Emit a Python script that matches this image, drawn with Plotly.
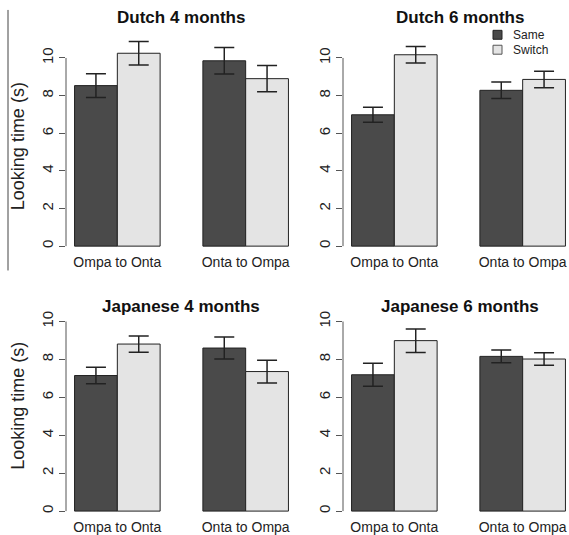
import plotly.graph_objects as go

W, H = 569, 535

conditions = ["Ompa to Onta", "Onta to Ompa"]
panel_titles = ["Dutch 4 months", "Dutch 6 months", "Japanese 4 months", "Japanese 6 months"]
series_names = ["Same", "Switch"]
same_means = [[8.53, 9.85], [6.98, 8.28], [7.15, 8.60], [7.19, 8.16]]
same_err = [[0.63, 0.70], [0.40, 0.44], [0.44, 0.58], [0.61, 0.33]]
switch_means = [[10.25, 8.90], [10.17, 8.86], [8.81, 7.36], [8.99, 8.02]]
switch_err = [[0.62, 0.70], [0.44, 0.44], [0.43, 0.60], [0.62, 0.33]]
y_ticks = [0, 2, 4, 6, 8, 10]
y_title = "Looking time (s)"

colors = {"Same": "#4a4a4a", "Switch": "#e4e4e4"}
edge_colors = {"Same": "#222", "Switch": "#555"}

# panel geometry in pixels: (x_left, x_right, y_top, y_bottom)
panels = [
    (66, 297, 29.9, 253.2),
    (343, 569, 29.9, 253.2),
    (66, 297, 294.7, 519.7),
    (343, 569, 294.7, 519.7),
]
x_ranges = [[-0.4, 1.4], [-0.4, 1.361], [-0.4, 1.4], [-0.4, 1.361]]
y_range = [-0.3, 11.5]

fig = go.Figure()
layout = dict(
    width=W, height=H, margin=dict(l=0, r=0, t=0, b=0),
    paper_bgcolor="white", plot_bgcolor="white",
    barmode="group", bargap=1/3, bargroupgap=0,
    font=dict(family="Liberation Sans, Arial, sans-serif", color="#222"),
    showlegend=False,
)
shapes = []
annotations = []

for i in range(4):
    sfx = "" if i == 0 else str(i + 1)
    xa, ya = "x" + sfx, "y" + sfx
    xl, xr, yt, yb = panels[i]
    for name, means, errs in (("Same", same_means[i], same_err[i]),
                              ("Switch", switch_means[i], switch_err[i])):
        fig.add_trace(go.Bar(
            x=conditions, y=means, name=name, xaxis=xa, yaxis=ya,
            marker=dict(color=colors[name], line=dict(color="#222", width=1)),
            error_y=dict(type="data", array=errs, visible=True,
                         color="#222", thickness=1.5, width=10),
            legendgroup=name,
        ))
    layout["xaxis" + sfx] = dict(
        domain=[xl / W, xr / W], anchor=ya, type="category",
        categoryorder="array", categoryarray=conditions,
        range=x_ranges[i], showline=False, showgrid=False, zeroline=False,
        ticks="", tickfont=dict(size=14, color="#222"),
    )
    layout["yaxis" + sfx] = dict(
        domain=[1 - yb / H, 1 - yt / H], anchor=xa, range=y_range,
        tickvals=y_ticks, ticktext=[str(v) for v in y_ticks],
        tickangle=-90, ticks="outside", ticklen=6, tickcolor="#555", tickwidth=1,
        showline=False, showgrid=False, zeroline=False,
        tickfont=dict(size=15, color="#222"),
    )
    # R-style axis line spanning only the tick range
    shapes.append(dict(type="line", xref=xa + " domain", yref=ya,
                       x0=0, x1=0, y0=y_ticks[0], y1=y_ticks[-1],
                       line=dict(color="#555", width=1)))
    annotations.append(dict(text="<b>" + panel_titles[i] + "</b>", xref="paper", yref="paper",
                            x=(xl + xr) / 2 / W if i % 2 == 0 else 460 / W,
                            y=1 - (18 if i < 2 else 308) / H,
                            xanchor="center", yanchor="middle", showarrow=False,
                            font=dict(size=17, color="#111")))

for yc in (147, 408):
    annotations.append(dict(text=y_title, xref="paper", yref="paper",
                            x=18 / W, y=1 - yc / H, textangle=-90,
                            xanchor="center", yanchor="middle", showarrow=False,
                            font=dict(size=18, color="#222")))

# legend (top-right panel)
for k, name in enumerate(series_names):
    cy = 35 + 15 * k
    shapes.append(dict(type="rect", xref="paper", yref="paper",
                       x0=493 / W, x1=502 / W, y0=1 - (cy - 4.5) / H, y1=1 - (cy + 4.5) / H,
                       fillcolor=colors[name], line=dict(color=edge_colors[name], width=1)))
    annotations.append(dict(text=name, xref="paper", yref="paper",
                            x=511 / W, y=1 - cy / H, xanchor="left", yanchor="middle",
                            showarrow=False, font=dict(size=12, color="#222")))

shapes.append(dict(type="line", xref="paper", yref="paper",
                   x0=8 / W, x1=8 / W, y0=1 - 10 / H, y1=1 - 272 / H,
                   line=dict(color="#444", width=1)))

layout["shapes"] = shapes
layout["annotations"] = annotations
fig.update_layout(**layout)
fig.write_html("out.html", config={"displayModeBar": False},
               post_script="document.body.style.margin='0px';")
